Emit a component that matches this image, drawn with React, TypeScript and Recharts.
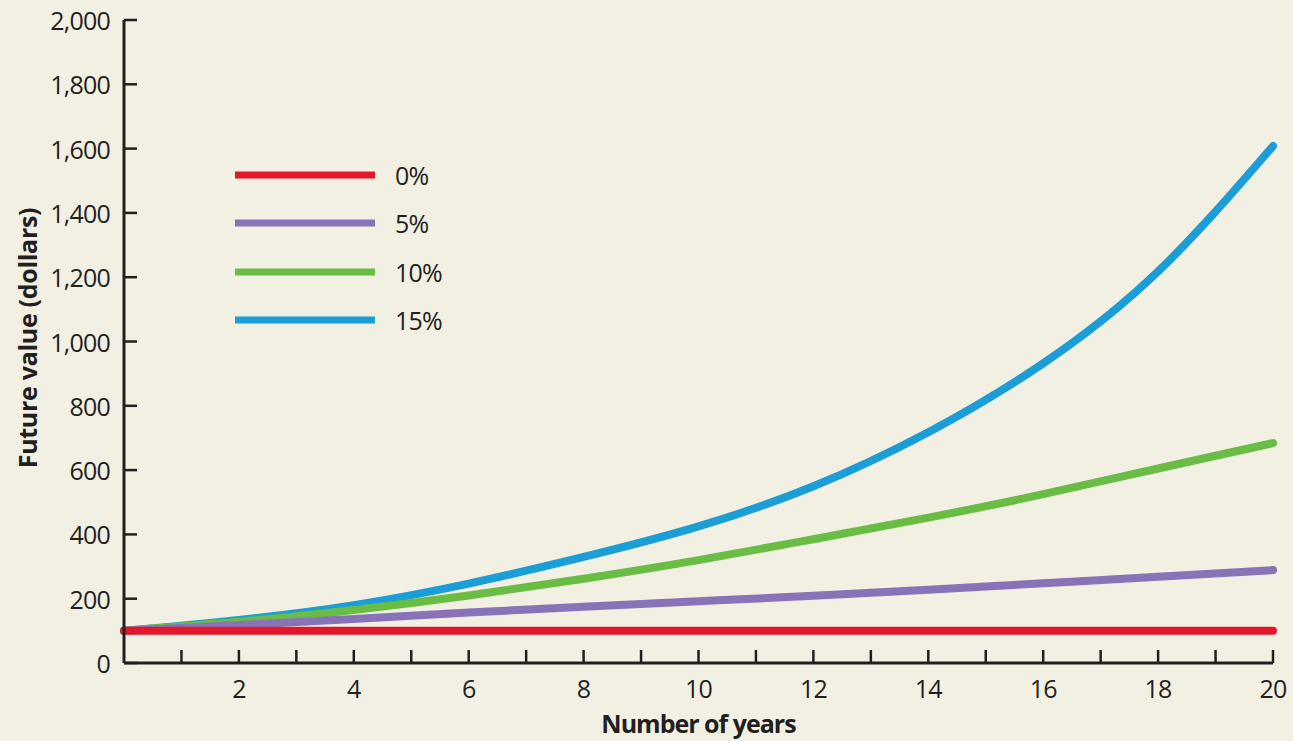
import React from "react";
import { LineChart, Line, XAxis, YAxis, Legend } from "recharts";

// Values (dollars, at even years)
const YEARS = [0, 2, 4, 6, 8, 10, 12, 14, 16, 18, 20];
const RATE_0 = [100, 100, 100, 100, 100, 100, 100, 100, 100, 100, 100];
const RATE_5 = [100, 118, 137, 157, 175, 192, 209, 228, 248, 268, 289];
const RATE_10 = [100, 128, 165, 210, 262, 320, 385, 452, 525, 605, 684];
const RATE_15 = [100, 134, 180, 247, 330, 425, 550, 718, 932, 1218, 1608];

const X_TICKS = [0, 1, 2, 3, 4, 5, 6, 7, 8, 9, 10, 11, 12, 13, 14, 15, 16, 17, 18, 19, 20];
const Y_TICKS = [0, 200, 400, 600, 800, 1000, 1200, 1400, 1600, 1800, 2000];

const SERIES = [
  { key: "r0", label: "0%", color: "#e3172b" },
  { key: "r5", label: "5%", color: "#8873b9" },
  { key: "r10", label: "10%", color: "#69bd45" },
  { key: "r15", label: "15%", color: "#1b9ed8" },
];

const data = YEARS.map((year, i) => ({
  year,
  r0: RATE_0[i],
  r5: RATE_5[i],
  r10: RATE_10[i],
  r15: RATE_15[i],
}));

const BG = "#f2efe3";
const INK = "#231f20";
const FONT = "'Open Sans', sans-serif";

function YTick({ x, y, payload }: any) {
  return (
    <g>
      <line x1={x} x2={x + 13} y1={y} y2={y} stroke={INK} strokeWidth={2.5} />
      <text
        x={x - 14}
        y={y}
        textAnchor="end"
        dominantBaseline="central"
        fontFamily={FONT}
        fontSize={25}
        fontWeight={500}
        letterSpacing={-0.8}
        fill={INK}
      >
        {payload.value.toLocaleString("en-US")}
      </text>
    </g>
  );
}

function XTick({ x, y, payload }: any) {
  const v = payload.value;
  return (
    <g>
      {v > 0 && <line x1={x} x2={x} y1={y} y2={y - 13} stroke={INK} strokeWidth={2.5} />}
      {v > 0 && v % 2 === 0 && (
        <text
          x={x}
          y={y + 25}
          textAnchor="middle"
          dominantBaseline="central"
          fontFamily={FONT}
          fontSize={25}
          fontWeight={500}
          letterSpacing={-0.8}
          fill={INK}
        >
          {v}
        </text>
      )}
    </g>
  );
}

function YTitle() {
  return (
    <text
      x={27}
      y={338}
      transform="rotate(-90, 27, 338)"
      textAnchor="middle"
      dominantBaseline="central"
      fontFamily={FONT}
      fontWeight="bold"
      fontSize={25}
      letterSpacing={-0.3}
      fill={INK}
    >
      Future value (dollars)
    </text>
  );
}

function LegendBox() {
  return (
    <div style={{ fontFamily: FONT, fontSize: 25, fontWeight: 500, letterSpacing: -0.8, color: INK }}>
      {SERIES.map((s) => (
        <div key={s.key} style={{ display: "flex", alignItems: "center", height: 48.3 }}>
          <svg width={150} height={12} style={{ display: "block" }}>
            <line x1={4} x2={144} y1={6} y2={6} stroke={s.color} strokeWidth={7} />
          </svg>
          <span style={{ marginLeft: 14 }}>{s.label}</span>
        </div>
      ))}
    </div>
  );
}

export default function App() {
  return (
    <div style={{ width: 1293, height: 741, background: BG }}>
      <style>{`body{margin:0;background:${BG}}`}</style>
      <LineChart width={1293} height={741} data={data} margin={{ top: 20, right: 20, left: 0, bottom: 0 }}>
        <XAxis
          dataKey="year"
          type="number"
          domain={[0, 20]}
          ticks={X_TICKS}
          interval={0}
          tickSize={0}
          tickMargin={0}
          tickLine={false}
          tick={<XTick />}
          height={78}
          axisLine={{ stroke: INK, strokeWidth: 3 }}
          label={{
            value: "Number of years",
            position: "insideBottom",
            offset: 8,
            style: { fontFamily: FONT, fontWeight: "bold", fontSize: 25, letterSpacing: -1, fill: INK },
          }}
        />
        <YAxis
          type="number"
          domain={[0, 2000]}
          ticks={Y_TICKS}
          interval={0}
          tickSize={0}
          tickMargin={0}
          tickLine={false}
          tick={<YTick />}
          width={124}
          axisLine={{ stroke: INK, strokeWidth: 3 }}
          label={<YTitle />}
        />
        <Legend
          layout="vertical"
          align="center"
          verticalAlign="middle"
          content={<LegendBox />}
          wrapperStyle={{ position: "absolute", top: 151, left: 231, width: 260 }}
        />
        {[...SERIES].reverse().map((s) => (
          <Line
            key={s.key}
            dataKey={s.key}
            type="natural"
            stroke={s.color}
            strokeWidth={8}
            strokeLinecap="round"
            dot={false}
            activeDot={false}
            isAnimationActive={false}
          />
        ))}
      </LineChart>
    </div>
  );
}
